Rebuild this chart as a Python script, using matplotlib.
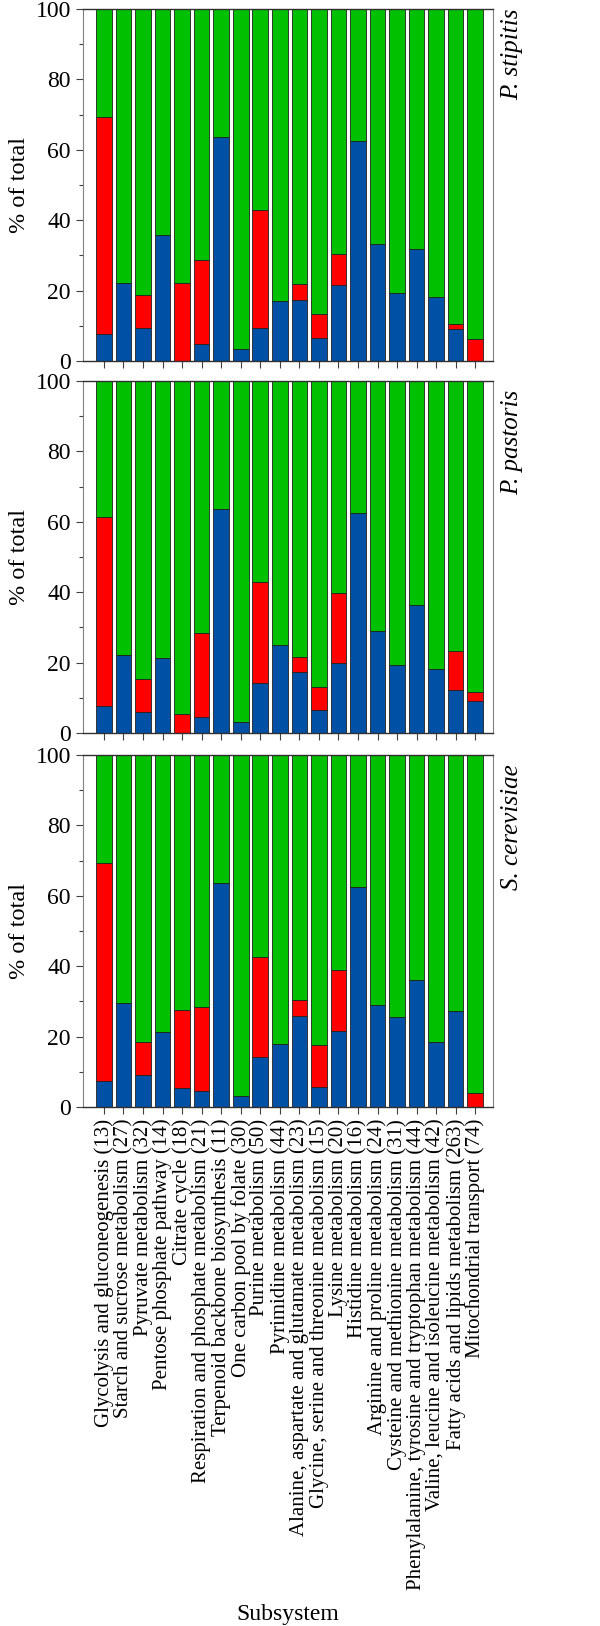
import matplotlib
matplotlib.use('Agg')
from matplotlib import pyplot as plt
from matplotlib.ticker import MultipleLocator

plt.rcParams['font.family'] = ['Liberation Serif', 'DejaVu Serif']

# subsystems with number of reactions
subsystems = [
    'Glycolysis and gluconeogenesis (13)', 'Starch and sucrose metabolism (27)',
    'Pyruvate metabolism (32)', 'Pentose phosphate pathway (14)', 'Citrate cycle (18)',
    'Respiration and phosphate metabolism (21)', 'Terpenoid backbone biosynthesis (11)',
    'One carbon pool by folate (30)', 'Purine metabolism (50)', 'Pyrimidine metabolism (44)',
    'Alanine, aspartate and glutamate metabolism (23)', 'Glycine, serine and threonine metabolism (15)',
    'Lysine metabolism (20)', 'Histidine metabolism (16)', 'Arginine and proline metabolism (24)',
    'Cysteine and methionine metabolism (31)', 'Phenylalanine, tyrosine and tryptophan metabolism (44)',
    'Valine, leucine and isoleucine metabolism (42)', 'Fatty acids and lipids metabolism (263)',
    'Mitochondrial transport (74)'
]

species = ['P. stipitis', 'P. pastoris', 'S. cerevisiae']

# % of total, bottom (blue), middle (red), top (green)
blue_pst = [7.7, 22.2, 9.4, 35.7, 0.0, 4.8, 63.6, 3.3, 9.3, 16.9,
            17.2, 6.4, 21.7, 62.5, 33.3, 19.2, 31.8, 18.2, 9.1, 0.0]
red_pst = [61.5, 0.0, 9.4, 0.0, 22.2, 23.8, 0.0, 0.0, 33.5, 0.0,
           4.6, 6.9, 8.6, 0.0, 0.0, 0.0, 0.0, 0.0, 1.4, 6.3]
green_pst = [30.8, 77.8, 81.2, 64.3, 77.8, 71.4, 36.4, 96.7, 57.2, 83.1,
             78.2, 86.7, 69.7, 37.5, 66.7, 80.8, 68.2, 81.8, 89.5, 93.7]

blue_ppa = [7.6, 22.1, 6.1, 21.3, 0.0, 4.5, 63.6, 3.2, 14.2, 25.0,
            17.2, 6.5, 19.9, 62.4, 28.9, 19.3, 36.3, 18.2, 12.1, 9.0]
red_ppa = [53.8, 0.0, 9.3, 0.0, 5.4, 23.9, 0.0, 0.0, 28.6, 0.0,
           4.4, 6.6, 19.9, 0.0, 0.0, 0.0, 0.0, 0.0, 11.1, 2.7]
green_ppa = [38.6, 77.9, 84.6, 78.7, 94.6, 71.6, 36.4, 96.8, 57.2, 75.0,
             78.4, 86.9, 60.2, 37.6, 71.1, 80.7, 63.7, 81.8, 76.8, 88.3]

blue_sce = [7.5, 29.5, 9.2, 21.4, 5.5, 4.5, 63.5, 3.2, 14.2, 18.0,
            25.9, 5.8, 21.6, 62.6, 29.0, 25.7, 36.2, 18.5, 27.3, 0.0]
red_sce = [61.7, 0.0, 9.3, 0.0, 22.1, 24.0, 0.0, 0.0, 28.5, 0.0,
           4.4, 11.7, 17.4, 0.0, 0.0, 0.0, 0.0, 0.0, 0.0, 4.1]
green_sce = [30.8, 70.5, 81.5, 78.6, 72.4, 71.5, 36.5, 96.8, 57.3, 82.0,
             69.7, 82.5, 61.0, 37.4, 71.0, 74.3, 63.8, 81.5, 72.7, 95.9]

blues = [blue_pst, blue_ppa, blue_sce]
reds = [red_pst, red_ppa, red_sce]
greens = [green_pst, green_ppa, green_sce]

c_blue = '#0050a5'
c_red = '#ff0000'
c_green = '#00c000'

fig = plt.figure(figsize=(6.0, 16.26), dpi=100)

# panel positions (left, bottom, width, height) in figure fraction
left = 0.138
width = 0.684
height = 0.2165
bottoms = [0.778, 0.5492, 0.3192]
label_y = [1.0, 0.975, 0.975]

x = list(range(len(subsystems)))
for i in range(3):
    ax = fig.add_axes([left, bottoms[i], width, height])
    b = blues[i]
    r = reds[i]
    g = greens[i]
    br = [bb + rr for bb, rr in zip(b, r)]
    ax.bar(x, b, width=0.8, color=c_blue, edgecolor='#202020', linewidth=0.6)
    ax.bar(x, r, width=0.8, bottom=b, color=c_red, edgecolor='#202020', linewidth=0.6)
    ax.bar(x, g, width=0.8, bottom=br, color=c_green, edgecolor='#202020', linewidth=0.6)

    ax.set_xlim(-1.08, 19.92)
    ax.set_ylim(0, 100)
    ax.yaxis.set_major_locator(MultipleLocator(20))
    ax.yaxis.set_minor_locator(MultipleLocator(10))
    ax.tick_params(axis='y', which='major', length=5, width=0.8, labelsize=17, color='#404040')
    ax.tick_params(axis='y', which='minor', length=3, width=0.8, color='#404040')
    ax.tick_params(axis='x', which='major', length=5, width=0.8, color='#404040')
    ax.set_xticks(x)
    if i == 2:
        ax.set_xticklabels(subsystems, rotation=90, fontsize=15)
        ax.set_xlabel('Subsystem', fontsize=17, labelpad=10)
    else:
        ax.set_xticklabels([])
    ax.set_ylabel('% of total', fontsize=17.5, labelpad=4)

    for s in ['left', 'right']:
        ax.spines[s].set_color('#808080')
        ax.spines[s].set_linewidth(0.8)
    for s in ['top', 'bottom']:
        ax.spines[s].set_color('#303030')
        ax.spines[s].set_linewidth(1.0)

    ax.text(1.045, label_y[i], species[i], transform=ax.transAxes, rotation=90,
            fontsize=18, style='italic', ha='center', va='top')

fig.savefig('out.png', dpi=100)
